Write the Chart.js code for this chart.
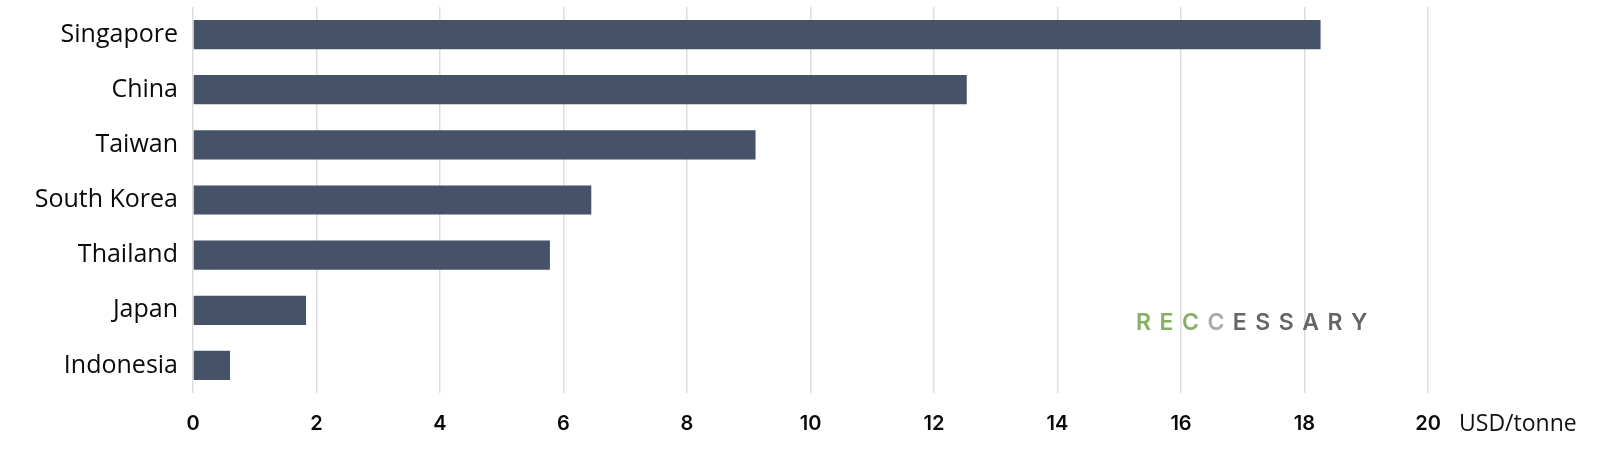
<!DOCTYPE html>
<html>
<head>
<meta charset="utf-8">
<script src="https://cdn.jsdelivr.net/npm/chart.js@4"></script>
<style>
    body { margin: 0; background: #ffffff; }
    #wrap { width: 1600px; height: 460px; }
</style>
</head>
<body>
<div id="wrap"><canvas id="costChart" width="1600" height="460"></canvas></div>
<script>
// Data
const countries = ['Singapore', 'China', 'Taiwan', 'South Korea', 'Thailand', 'Japan', 'Indonesia'];
const costs = [18.26, 12.53, 9.11, 6.45, 5.78, 1.83, 0.6];
const unitLabel = 'USD/tonne';
const xMax = 20;
const xStep = 2;

// Watermark pieces (text, colour)
const logoParts = [
    ['R', '#86b064'], ['E', '#86b064'], ['C', '#86b064'],
    ['C', '#a9a9a9'],
    ['E', '#666666'], ['S', '#666666'], ['S', '#666666'], ['A', '#666666'], ['R', '#666666'], ['Y', '#666666']
];

/**
 * Unit label next to the last tick and the logo
 */
const extrasPlugin = {
    id: 'extras',
    afterDraw(chart) {
        const ctx = chart.ctx;
        const xScale = chart.scales.x;
        ctx.save();

        // unit after the last tick
        ctx.font = '23px "Open Sans"';
        ctx.fillStyle = '#111111';
        ctx.textAlign = 'left';
        ctx.textBaseline = 'alphabetic';
        ctx.fillText(unitLabel, xScale.getPixelForValue(xMax) + 31, 431);

        // logo
        ctx.font = '600 23px Inter';
        let x = 1136;
        logoParts.forEach(part => {
            ctx.fillStyle = part[1];
            ctx.fillText(part[0], x, 330);
            x += ctx.measureText(part[0]).width + 8.5;
        });

        ctx.restore();
    }
};

const ctx = document.getElementById('costChart').getContext('2d');

new Chart(ctx, {
    type: 'bar',
    data: {
        labels: countries,
        datasets: [{
            data: costs,
            backgroundColor: '#465268',
            borderWidth: 0,
            categoryPercentage: 1,
            barPercentage: 0.53
        }]
    },
    options: {
        indexAxis: 'y',
        responsive: false,
        animation: false,
        layout: {
            padding: { top: 7, right: 172, left: 0, bottom: 0 }
        },
        scales: {
            x: {
                min: 0,
                max: xMax,
                afterFit: function(scale) {
                    scale.height = 67;
                },
                grid: {
                    color: '#dddddd',
                    lineWidth: 1.5,
                    drawTicks: false
                },
                border: { display: false },
                ticks: {
                    stepSize: xStep,
                    padding: 19,
                    color: '#0a0a0a',
                    font: { family: 'Inter', size: 20, weight: '600' }
                }
            },
            y: {
                afterFit: function(scale) {
                    scale.width = 193;
                    scale.paddingTop = 0;
                    scale.paddingBottom = 0;
                },
                grid: { display: false, drawTicks: false },
                border: { display: false },
                ticks: {
                    padding: 15,
                    color: '#0a0a0a',
                    font: { family: 'Open Sans', size: 25 }
                }
            }
        },
        plugins: {
            legend: { display: false },
            tooltip: { enabled: false }
        }
    },
    plugins: [extrasPlugin]
});
</script>
</body>
</html>
